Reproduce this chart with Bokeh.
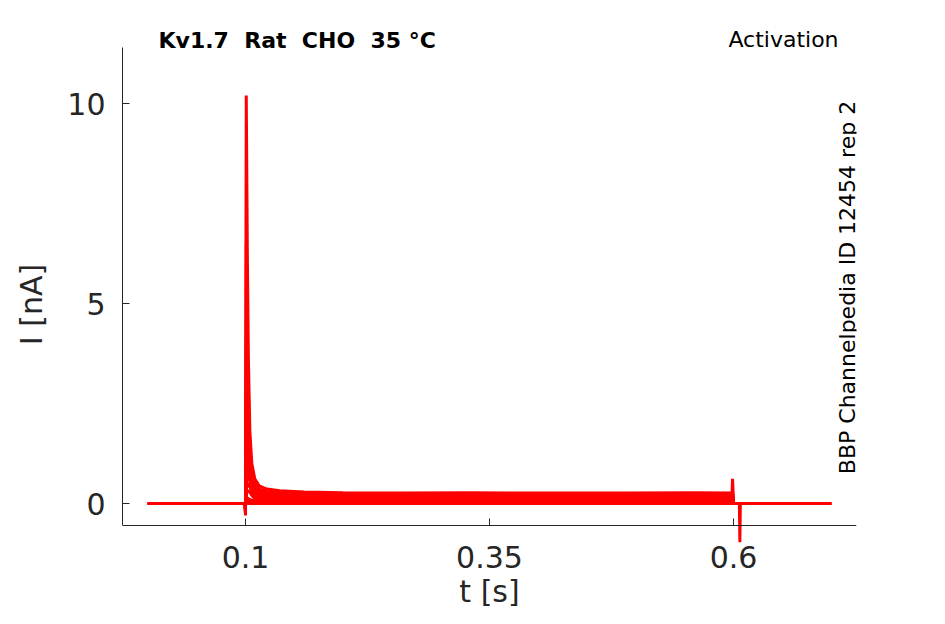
from bokeh.plotting import figure
from bokeh.models import Range1d, FixedTicker, Label, ColumnDataSource
from bokeh.embed import file_html
from bokeh.resources import INLINE

# time grid (s)
t = [0.0, 0.05, 0.0995, 0.1000, 0.1003, 0.1008, 0.1012, 0.1020, 0.1030, 0.1045,
     0.1065, 0.1095, 0.1140, 0.1220, 0.1350, 0.1600, 0.2000, 0.2600, 0.3300, 0.4100,
     0.4900, 0.5600, 0.5985, 0.5990, 0.6000, 0.6010, 0.6060, 0.6065, 0.6070, 0.6500, 0.7000]

# currents (nA), one list per voltage step
i_a = [0.00, 0.00, 0.00, -0.30, 4.00, 10.20, 8.80, 6.00, 3.60, 1.80, 1.00, 0.62, 0.44, 0.36, 0.32, 0.29,
       0.27, 0.26, 0.27, 0.26, 0.26, 0.27, 0.26, 0.62, 0.02, 0.00, 0.00, 0.00, 0.00, 0.00, 0.00]
i_b = [0.00, 0.00, 0.00, -0.25, 2.50, 6.50, 5.60, 3.80, 2.40, 1.30, 0.80, 0.50, 0.36, 0.30, 0.27, 0.25,
       0.24, 0.24, 0.23, 0.24, 0.23, 0.24, 0.23, 0.30, 0.02, 0.00, 0.00, 0.00, 0.00, 0.00, 0.00]
i_c = [0.00, 0.00, 0.00, -0.22, 1.60, 4.00, 3.60, 2.60, 1.70, 1.00, 0.62, 0.42, 0.31, 0.26, 0.23, 0.22,
       0.21, 0.21, 0.21, 0.22, 0.21, 0.21, 0.21, 0.26, 0.01, 0.00, 0.00, 0.00, 0.00, 0.00, 0.00]
i_d = [0.00, 0.00, 0.00, -0.20, 1.00, 2.40, 2.30, 1.80, 1.20, 0.78, 0.50, 0.35, 0.27, 0.22, 0.20, 0.19,
       0.19, 0.19, 0.18, 0.19, 0.19, 0.18, 0.19, 0.22, 0.01, 0.00, 0.00, 0.00, 0.00, 0.00, 0.00]
i_e = [0.00, 0.00, 0.00, -0.17, 0.50, 1.40, 1.60, 1.30, 0.90, 0.60, 0.40, 0.28, 0.22, 0.19, 0.17, 0.17,
       0.16, 0.17, 0.16, 0.17, 0.16, 0.17, 0.16, 0.19, 0.01, 0.00, 0.00, 0.00, 0.00, 0.00, 0.00]
i_f = [0.00, 0.00, 0.00, -0.14, 0.25, 0.70, 0.90, 0.95, 0.80, 0.55, 0.36, 0.24, 0.18, 0.16, 0.15, 0.14,
       0.14, 0.14, 0.14, 0.14, 0.14, 0.15, 0.14, 0.16, 0.01, 0.00, 0.00, 0.00, 0.00, 0.00, 0.00]
i_g = [0.00, 0.00, 0.00, -0.12, 0.15, 0.40, 0.55, 0.70, 0.75, 0.62, 0.42, 0.26, 0.17, 0.13, 0.12, 0.12,
       0.12, 0.11, 0.12, 0.12, 0.12, 0.11, 0.12, 0.13, 0.01, 0.00, 0.00, -0.97, 0.00, 0.00, 0.00]
i_h = [0.00, 0.00, 0.00, -0.10, 0.10, 0.28, 0.38, 0.48, 0.50, 0.42, 0.30, 0.19, 0.13, 0.11, 0.10, 0.10,
       0.10, 0.10, 0.09, 0.10, 0.10, 0.10, 0.10, 0.11, 0.00, 0.00, 0.00, 0.00, 0.00, 0.00, 0.00]
i_j = [0.00, 0.00, 0.00, -0.08, 0.08, 0.20, 0.26, 0.31, 0.32, 0.28, 0.20, 0.13, 0.09, 0.08, 0.08, 0.08,
       0.08, 0.08, 0.07, 0.08, 0.08, 0.08, 0.08, 0.09, 0.00, 0.00, 0.00, 0.00, 0.00, 0.00, 0.00]
i_k = [0.00, 0.00, 0.00, -0.06, 0.04, 0.10, 0.13, 0.14, 0.12, 0.10, 0.08, 0.07, 0.06, 0.06, 0.06, 0.06,
       0.06, 0.06, 0.06, 0.05, 0.06, 0.06, 0.06, 0.07, 0.00, 0.00, 0.00, 0.00, 0.00, 0.00, 0.00]
i_l = [0.00, 0.00, 0.00, -0.05, 0.03, 0.07, 0.08, 0.08, 0.07, 0.06, 0.05, 0.04, 0.04, 0.04, 0.04, 0.04,
       0.04, 0.04, 0.04, 0.04, 0.04, 0.04, 0.04, 0.05, 0.00, 0.00, 0.00, 0.00, 0.00, 0.00, 0.00]
i_m = [0.00, 0.00, 0.00, -0.04, 0.02, 0.04, 0.05, 0.04, 0.03, 0.03, 0.02, 0.02, 0.02, 0.02, 0.02, 0.02,
       0.02, 0.02, 0.02, 0.02, 0.02, 0.02, 0.02, 0.03, 0.00, 0.00, 0.00, 0.00, 0.00, 0.00, 0.00]
i_n = [0.00, 0.00, 0.00, -0.03, 0.00, 0.01, 0.01, 0.01, 0.00, 0.00, 0.00, 0.00, 0.00, 0.00, 0.00, 0.00,
       0.00, 0.00, 0.00, 0.00, 0.00, 0.00, 0.00, 0.00, 0.00, 0.00, 0.00, 0.00, 0.00, 0.00, 0.00]
traces = [i_a, i_b, i_c, i_d, i_e, i_f, i_g, i_h, i_j, i_k, i_l, i_m, i_n]

x_ticks = [0.1, 0.35, 0.6]
x_tick_labels = ["0.1", "0.35", "0.6"]
y_ticks = [0, 5, 10]
y_tick_labels = ["0", "5", "10"]
x_axis_at = -0.55
y_axis_top = 11.4

title_text = "Kv1.7 \u00a0Rat \u00a0CHO \u00a035 \u00b0C"
protocol_text = "Activation"
source_text = "BBP Channelpedia ID 12454 rep 2"

FONT = "DejaVu Sans"
AXC = "#262626"

p = figure(width=929, height=608, output_backend="svg", toolbar_location=None,
           x_range=Range1d(-0.026, 0.726), y_range=Range1d(-2.625, 12.575),
           min_border_left=122, min_border_right=73, min_border_top=0, min_border_bottom=0)
p.outline_line_color = None
p.grid.visible = False
p.background_fill_color = "white"
p.border_fill_color = "white"

for tr in traces:
    src = ColumnDataSource(dict(t=t, i=tr))
    p.line("t", "i", source=src, line_color="#ff0000", line_width=3)

xa = p.xaxis[0]
xa.fixed_location = x_axis_at
xa.ticker = FixedTicker(ticks=x_ticks)
xa.major_label_overrides = {k: v for k, v in zip(x_ticks, x_tick_labels)}
xa.axis_label = "t [s]"

ya = p.yaxis[0]
ya.ticker = FixedTicker(ticks=y_ticks)
ya.major_label_overrides = {k: v for k, v in zip(y_ticks, y_tick_labels)}
ya.axis_label = "I [nA]"
ya.bounds = (x_axis_at, y_axis_top)

for ax in (xa, ya):
    ax.minor_tick_line_color = None
    ax.major_tick_in = 7
    ax.major_tick_out = 0
    ax.axis_line_color = AXC
    ax.major_tick_line_color = AXC
    ax.major_label_text_color = AXC
    ax.axis_label_text_color = AXC
    ax.major_label_text_font = FONT
    ax.axis_label_text_font = FONT
    ax.major_label_text_font_size = "30px"
    ax.axis_label_text_font_size = "30px"
    ax.axis_label_text_font_style = "normal"

xa.major_label_standoff = 20
xa.axis_label_standoff = 3
ya.major_label_standoff = 17
ya.axis_label_standoff = 15

p.add_layout(Label(x=0.0109, y=11.575, text=title_text, text_font=FONT, text_font_size="22px",
                   text_font_style="bold", text_align="left", text_baseline="middle", text_color="black"))
p.add_layout(Label(x=0.7076, y=11.6, text=protocol_text, text_font=FONT, text_font_size="22px",
                   text_align="right", text_baseline="middle", text_color="black"))
p.add_layout(Label(x=0.7168, y=5.4, text=source_text, text_font=FONT, text_font_size="22px",
                   angle=1.5707963, text_align="center", text_baseline="middle", text_color="black"))

open("out.html", "w").write(file_html(p, INLINE))
